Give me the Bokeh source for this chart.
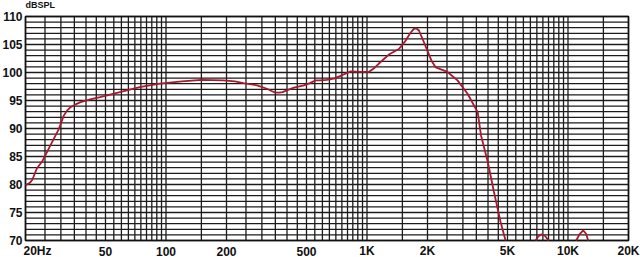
import math
from bokeh.plotting import figure
from bokeh.models import Range1d
from bokeh.core.properties import value
from bokeh.embed import file_html
from bokeh.resources import INLINE

# ---- data ----
# NaN = the response runs below the 70 dB floor of the chart there
nan = float("nan")
freq_hz = [20, 21.0, 21.6, 22.8, 24.2, 26.6, 29.3, 31, 32.2, 33.5, 35.5, 37.6, 42,
           47, 59, 74, 93, 120, 150, 193, 220, 243, 284, 318, 335, 350, 365, 380,
           405, 433, 485, 520, 555, 585, 630, 684, 750, 830, 930, 1020, 1080, 1146,
           1285, 1442, 1557, 1640, 1710, 1760, 1813, 1900, 1997, 2100, 2200, 2350,
           2514, 2820, 3165, 3555, 3690, 3985, 4280, 4620, 4890, 6000,
           6910, 7100, 7380, 7700, 8000, 9500,
           10990, 11400, 11900, 12300, 12600]
spl_db = [79.8, 80.3, 80.8, 82.9, 84.1, 87.0, 89.9, 92.3, 93.2, 93.8, 94.3, 94.7,
          95.2, 95.6, 96.5, 97.4, 98.0, 98.4, 98.7, 98.6, 98.4, 98.1, 97.7, 97.1,
          96.7, 96.4, 96.4, 96.5, 96.9, 97.3, 97.7, 98.1, 98.6, 98.6, 98.7, 98.9,
          99.5, 100.2, 100.1, 100.1, 100.7, 101.6, 103.2, 104.2, 105.7, 107.0, 107.8,
          107.9, 107.5, 105.8, 103.9, 102.0, 100.9, 100.5, 100.1, 98.6, 96.2, 92.9,
          88.8, 84.1, 78.7, 73.3, 70.0, nan,
          70.0, 70.7, 71.1, 70.8, 70.0, nan,
          70.0, 71.1, 71.8, 71.2, 70.0]

x_tick_values = [20, 50, 100, 200, 500, 1000, 2000, 5000, 10000, 20000]
x_tick_labels = ["20Hz", "50", "100", "200", "500", "1K", "2K", "5K", "10K", "20K"]
y_tick_values = [70, 75, 80, 85, 90, 95, 100, 105, 110]
y_tick_labels = [str(v) for v in y_tick_values]
y_unit_label = "dBSPL"

# log-paper grid: per decade d -> 1.5d, then 2d..10d in steps of 0.5d
x_grid_values = ([20 + 5 * i for i in range(17)] + [150] +
                 [200 + 50 * i for i in range(17)] + [1500] +
                 [2000 + 500 * i for i in range(17)] + [15000, 20000])
y_grid_values = list(range(70, 111))

X_MIN, X_MAX, Y_MIN, Y_MAX = 20, 20000, 70, 110

# ---- layout (pixels) ----
W, H = 640, 257
PAD_L, PAD_R, PAD_T, PAD_B = 25, 12, 16, 17
dec_per_px = math.log10(X_MAX / X_MIN) / (W - PAD_L - PAD_R)
db_per_px = (Y_MAX - Y_MIN) / (H - PAD_T - PAD_B)
x_range = Range1d(X_MIN * 10 ** (-PAD_L * dec_per_px), X_MAX * 10 ** (PAD_R * dec_per_px))
y_range = Range1d(Y_MIN - PAD_B * db_per_px, Y_MAX + PAD_T * db_per_px)

p = figure(width=W, height=H, x_axis_type="log", x_range=x_range, y_range=y_range,
           title=None, output_backend="svg", toolbar_location=None,
           min_border_left=0, min_border_right=0, min_border_top=0, min_border_bottom=0)
p.axis.visible = False
p.grid.visible = False
p.outline_line_color = None
p.background_fill_color = "white"
p.border_fill_color = "white"

FONT = value("Liberation Sans")
INK = "#111111"
GRID = "#1c1c1c"

# grid of the chart area
p.segment(x0=x_grid_values, y0=[Y_MIN] * len(x_grid_values),
          x1=x_grid_values, y1=[Y_MAX] * len(x_grid_values),
          line_color=GRID, line_width=1.3)
p.segment(x0=[X_MIN] * len(y_grid_values), y0=y_grid_values,
          x1=[X_MAX] * len(y_grid_values), y1=y_grid_values,
          line_color=GRID, line_width=1.3)
p.quad(left=[X_MIN], right=[X_MAX], bottom=[Y_MIN], top=[Y_MAX],
       fill_color=None, line_color=INK, line_width=1.6)

# response curve
p.line(freq_hz, spl_db, line_color="#a8182e", line_width=1.8)

# tick labels
p.text(x=[X_MIN] * len(y_tick_values), y=y_tick_values, text=y_tick_labels,
       text_align="right", text_baseline="middle", x_offset=-3, y_offset=0,
       text_font=FONT, text_font_size="12px", text_font_style="bold", text_color=INK)
x_aligns = ["left" if v == X_MIN else "center" for v in x_tick_values]
x_offs = [-2 if v == X_MIN else 0 for v in x_tick_values]
p.text(x=x_tick_values, y=[Y_MIN] * len(x_tick_values), text=x_tick_labels,
       text_align=x_aligns, text_baseline="middle", x_offset=x_offs, y_offset=10.5,
       text_font=FONT, text_font_size="12px", text_font_style="bold", text_color=INK)
p.text(x=[X_MIN], y=[Y_MAX], text=[y_unit_label], text_align="left",
       text_baseline="middle", y_offset=-12,
       text_font=FONT, text_font_size="9px", text_font_style="bold", text_color=INK)

open("out.html", "w").write(file_html(p, INLINE))
